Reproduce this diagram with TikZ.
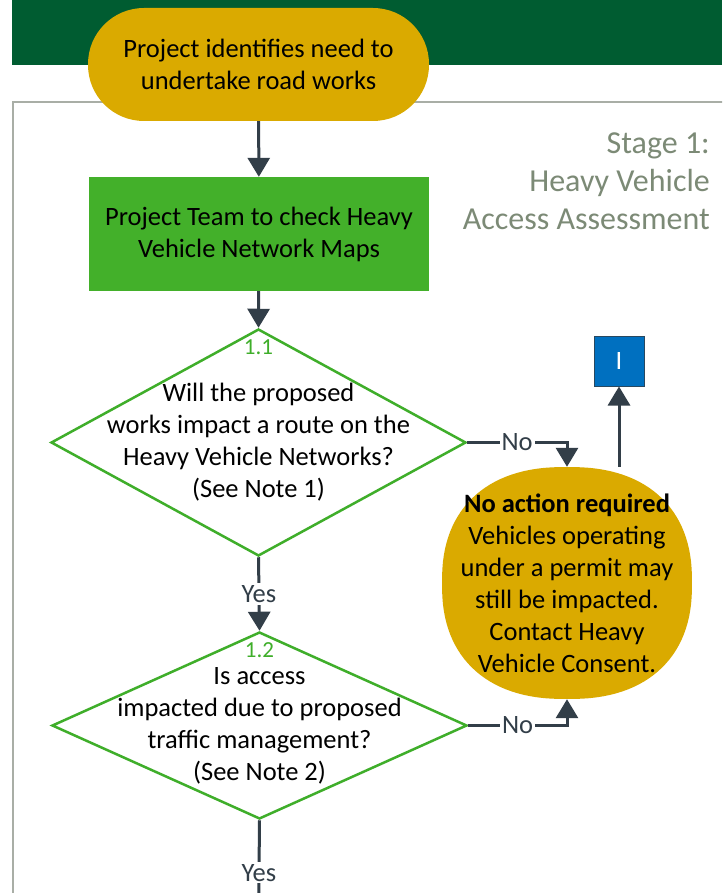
\documentclass[tikz,border=0pt]{standalone}
\usepackage{fontspec}
\setmainfont{Carlito}
\usetikzlibrary{shapes.geometric,arrows.meta,positioning}

\definecolor{bandgreen}{HTML}{005C31}
\definecolor{termgold}{HTML}{DAAA00}
\definecolor{boxgreen}{HTML}{43B02A}
\definecolor{qgreen}{HTML}{3FAE2A}
\definecolor{flowgray}{HTML}{323E48}
\definecolor{framegray}{HTML}{A9AEA6}
\definecolor{stagegray}{HTML}{7C8A76}
\definecolor{linkblue}{HTML}{0070C0}

\tikzset{
  txt/.style={font=\fontsize{26.5}{32}\selectfont, align=center, inner sep=0pt},
  term/.style={txt, fill=termgold, rounded corners=56pt, minimum width=341pt, minimum height=113pt},
  chk/.style={txt, fill=boxgreen, minimum width=340pt, minimum height=114pt},
  question/.style={diamond, draw=qgreen, line width=2.5pt, fill=white, inner sep=0pt},
  qnum/.style={font=\fontsize{23}{26}\selectfont, text=qgreen, inner sep=0pt},
  yn/.style={font=\fontsize{26.5}{30}\selectfont, text=flowgray, fill=white, inner sep=2pt},
  flow/.style={draw=flowgray, line width=3pt, -{Triangle[width=22pt,length=19pt]}},
  link/.style={fill=linkblue, draw=flowgray!80!linkblue, line width=1pt, text=white,
    font=\fontsize{26.5}{30}\selectfont, minimum width=50pt, minimum height=50pt}
}

\begin{document}
\begin{tikzpicture}[x=1pt, y=-1pt]
  \clip (0,0) rectangle (722,893);
  \fill[white] (0,0) rectangle (722,893);

  % header band and stage frame
  \fill[bandgreen] (12,0) rectangle (722,65);
  \draw[framegray, line width=2pt] (13,900) -- (13,102) -- (730,102);
  \node[txt, align=right, anchor=east, text=stagegray, font=\fontsize{32}{38}\selectfont]
    (stage) at (710,181) {Stage 1:\\Heavy Vehicle\\Access Assessment};

  \node[term] (start) at (258.5,64.5) {Project identifies need to\\undertake road works};
  \node[chk] (check) at (259,234) {Project Team to check Heavy\\Vehicle Network Maps};

  \node[question, minimum width=415pt, minimum height=227pt] (q1) at (258.5,442.5) {};
  \node[txt] (q1t) at (q1) {Will the proposed\\works impact a route on the\\Heavy Vehicle Networks?\\(See Note 1)};
  \node[qnum, below=12pt of q1.north] (q1n) {1.1};

  \node[question, minimum width=415pt, minimum height=187pt] (q2) at (259.5,725.5) {};
  \node[txt] (q2t) at (q2) {Is access\\impacted due to proposed\\traffic management?\\(See Note 2)};
  \node[qnum, below=12pt of q2.north] (q2n) {1.2};

  % no action needed
  \coordinate (actc) at (567,583);
  \fill[termgold, shift={(actc)}] plot[domain=1.5:358.5, samples=120]
    ({125*cos(\x)/abs(cos(\x))*abs(cos(\x))^0.85}, {116*sin(\x)/abs(sin(\x))*abs(sin(\x))^0.85}) -- cycle;
  \node[txt, minimum width=250pt, minimum height=232pt] (act) at (actc)
    {\textbf{No action required}\\Vehicles operating\\under a permit may\\still be impacted.\\Contact Heavy\\Vehicle Consent.};
  \node[link] (exit) at (619,361) {I};

  \coordinate (down) at (258.5,925);

  \draw[flow] (start) -- (check);
  \draw[flow] (check) -- (q1.north);
  \draw[flow] (q1.south) -- node[yn]{Yes} (q2.north);
  \draw[flow] (q1.east) -| node[yn, pos=0.25]{No} (act.north);
  \draw[flow] (q2.east) -| node[yn, pos=0.25]{No} (act.south);
  \draw[flow] (act.north -| exit.south) -- (exit.south);
  \draw[flow] (q2.south) -- node[yn, pos=0.5]{Yes} (down);
\end{tikzpicture}
\end{document}
